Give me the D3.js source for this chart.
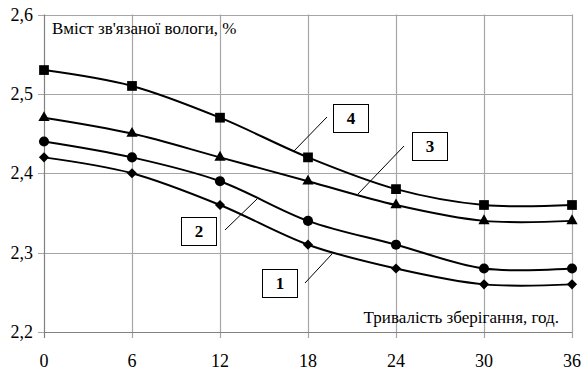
<!DOCTYPE html>
<html>
<head>
<meta charset="utf-8">
<script src="https://cdn.jsdelivr.net/npm/d3@7"></script>
<style>
  body { margin: 0; background: #fff; }
  svg text { font-family: "Liberation Serif", "Tinos", "Times New Roman", "DejaVu Serif", serif; }
</style>
</head>
<body>
<div id="chart"></div>
<script>
// Storage duration, hours
const hours = [0, 6, 12, 18, 24, 30, 36];
const yTicks = [2.2, 2.3, 2.4, 2.5, 2.6];

// Bound moisture content, %
const series1 = [2.42, 2.40, 2.36, 2.31, 2.28, 2.26, 2.26];
const series2 = [2.44, 2.42, 2.39, 2.34, 2.31, 2.28, 2.28];
const series3 = [2.47, 2.45, 2.42, 2.39, 2.36, 2.34, 2.34];
const series4 = [2.53, 2.51, 2.47, 2.42, 2.38, 2.36, 2.36];

const seriesNames = ['1', '2', '3', '4'];

const width = 581;
const height = 371;
const margin = { top: 14.5, right: 9, bottom: 39, left: 44 };

const svg = d3.select('#chart')
  .append('svg')
  .attr('width', width)
  .attr('height', height);

const x = d3.scaleLinear()
  .domain([0, 36])
  .range([margin.left, width - margin.right]);

const y = d3.scaleLinear()
  .domain([2.2, 2.6])
  .range([height - margin.bottom, margin.top]);

const fmt = d => d3.format('.1f')(d).replace('.', ',');

// Gridlines
svg.append('g')
  .selectAll('line')
  .data(yTicks)
  .enter()
  .append('line')
  .attr('x1', x(0) - 6)
  .attr('x2', x(36))
  .attr('y1', d => Math.round(y(d)) + 0.5)
  .attr('y2', d => Math.round(y(d)) + 0.5)
  .attr('stroke', '#a6a6a6')
  .attr('stroke-width', 1.2);

svg.append('g')
  .selectAll('line')
  .data(hours)
  .enter()
  .append('line')
  .attr('x1', d => Math.round(x(d)) + 0.5)
  .attr('x2', d => Math.round(x(d)) + 0.5)
  .attr('y1', y(2.6))
  .attr('y2', y(2.2) + 6)
  .attr('stroke', d => d === 0 ? '#808080' : '#a6a6a6')
  .attr('stroke-width', 1.2);

// Bottom axis line
svg.append('line')
  .attr('x1', x(0))
  .attr('x2', x(36))
  .attr('y1', Math.round(y(2.2)) + 0.5)
  .attr('y2', Math.round(y(2.2)) + 0.5)
  .attr('stroke', '#808080')
  .attr('stroke-width', 1.2);

// Tick labels
svg.append('g')
  .selectAll('text')
  .data(yTicks)
  .enter()
  .append('text')
  .attr('x', 33)
  .attr('y', d => y(d) + 6)
  .attr('text-anchor', 'end')
  .style('font-size', '18px')
  .text(fmt);

svg.append('g')
  .selectAll('text')
  .data(hours)
  .enter()
  .append('text')
  .attr('x', d => x(d))
  .attr('y', 367)
  .attr('text-anchor', 'middle')
  .style('font-size', '18px')
  .text(d => d);

// Axis titles
svg.append('text')
  .attr('x', 52)
  .attr('y', 34)
  .style('font-size', '17px')
  .text("Вміст зв'язаної вологи, %");

svg.append('text')
  .attr('x', 559)
  .attr('y', 323)
  .attr('text-anchor', 'end')
  .style('font-size', '17px')
  .text('Тривалість зберігання, год.');

// Lines and markers
const allSeries = [series1, series2, series3, series4];

const line = d3.line()
  .x((d, i) => x(hours[i]))
  .y(d => y(d))
  .curve(d3.curveCardinal.tension(0));

// diamond = square turned by 45 degrees
const markers = [
  { type: d3.symbolSquare, size: 52, rotate: 45 },
  { type: d3.symbolCircle, size: 80, rotate: 0 },
  { type: d3.symbolTriangle, size: 55, rotate: 0 },
  { type: d3.symbolSquare, size: 95, rotate: 0 }
];

allSeries.forEach((values, k) => {
  svg.append('path')
    .datum(values)
    .attr('d', line)
    .attr('fill', 'none')
    .attr('stroke', '#000')
    .attr('stroke-width', 2);

  const m = markers[k];
  svg.append('g')
    .selectAll('path')
    .data(values)
    .enter()
    .append('path')
    .attr('transform', (d, i) => `translate(${x(hours[i])}, ${y(d)}) rotate(${m.rotate})`)
    .attr('d', d3.symbol().type(m.type).size(m.size))
    .attr('fill', '#000');
});

// Series labels with leader lines
const labelBoxes = [
  { name: seriesNames[0], bx: 262, by: 269, lx1: 305, ly1: 283, lx2: 332, ly2: 254 },
  { name: seriesNames[1], bx: 181, by: 217, lx1: 225, ly1: 230, lx2: 257, ly2: 199 },
  { name: seriesNames[2], bx: 412, by: 132, lx1: 358, ly1: 194, lx2: 404, ly2: 146 },
  { name: seriesNames[3], bx: 333, by: 104, lx1: 293, ly1: 152, lx2: 327, ly2: 117 }
];

const labels = svg.append('g')
  .selectAll('g')
  .data(labelBoxes)
  .enter()
  .append('g');

labels.append('line')
  .attr('x1', d => d.lx1)
  .attr('y1', d => d.ly1)
  .attr('x2', d => d.lx2)
  .attr('y2', d => d.ly2)
  .attr('stroke', '#000')
  .attr('stroke-width', 1);

labels.append('rect')
  .attr('x', d => d.bx + 0.5)
  .attr('y', d => d.by + 0.5)
  .attr('width', 35)
  .attr('height', 28)
  .attr('fill', '#fff')
  .attr('stroke', '#000')
  .attr('stroke-width', 1);

labels.append('text')
  .attr('x', d => d.bx + 18)
  .attr('y', d => d.by + 20)
  .attr('text-anchor', 'middle')
  .style('font-size', '17px')
  .style('font-weight', 'bold')
  .text(d => d.name);
</script>
</body>
</html>
